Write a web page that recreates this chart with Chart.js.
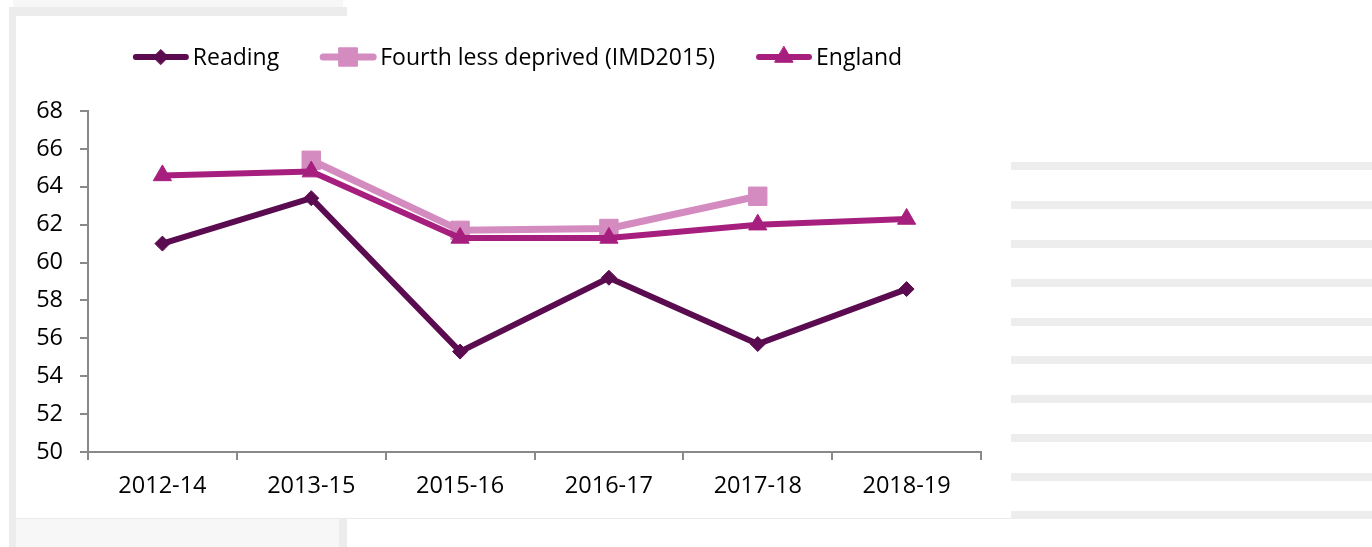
<!DOCTYPE html>
<html>
<head>
<meta charset="utf-8">
<script src="https://cdn.jsdelivr.net/npm/chart.js@4"></script>
<style>
  html, body { margin: 0; padding: 0; background: #ffffff; width: 1372px; height: 547px; overflow: hidden; position: relative; }
  .deco { position: absolute; }
  #chartBox { position: absolute; left: 16px; top: 16px; width: 995px; height: 502px; }
</style>
</head>
<body>
<div class="deco" style="left:13px;top:0;width:330px;height:7px;background:#f7f7f7;"></div>
<div class="deco" style="left:9px;top:7px;width:338px;height:9px;background:#ececec;"></div>
<div class="deco" style="left:9px;top:7px;width:7px;height:540px;background:#ececec;"></div>
<div class="deco" style="left:16px;top:519px;width:323px;height:28px;background:#f7f7f7;"></div>
<div class="deco" style="left:339px;top:519px;width:8px;height:28px;background:#ececec;"></div>
<div class="deco" style="left:16px;top:518px;width:995px;height:1px;background:#ebebeb;"></div>
<div id="stripes"></div>
<div id="chartBox"><canvas id="c" width="995" height="502"></canvas></div>
<script>
// ---- data ----
const categories = ['2012-14', '2013-15', '2015-16', '2016-17', '2017-18', '2018-19'];
const readingValues = [61.0, 63.4, 55.3, 59.2, 55.7, 58.6];
const fourthValues = [null, 65.4, 61.7, 61.8, 63.5, null];
const englandValues = [64.6, 64.8, 61.3, 61.3, 62.0, 62.3];
const seriesNames = ['Reading', 'Fourth less deprived (IMD2015)', 'England'];
const yMin = 50, yMax = 68, yStep = 2;

// ---- decorative page stripes (screenshot background) ----
(function () {
  const host = document.getElementById('stripes');
  [162, 201, 240, 279, 318, 356, 395, 434, 473, 511].forEach(function (y) {
    const d = document.createElement('div');
    d.className = 'deco';
    d.style.cssText = 'left:1011px;top:' + y + 'px;width:361px;height:8px;background:#ededed;';
    host.appendChild(d);
  });
})();

const FONT = "'Open Sans', 'Liberation Sans', sans-serif";
const AXIS_COLOR = '#898989';

const lineLegend = {
  id: 'lineLegend',
  afterDraw(chart) {
    const ctx = chart.ctx;
    const fontSize = 23;
    ctx.save();
    ctx.font = fontSize + 'px ' + FONT;
    const sampleW = 56, gapText = 4, gapItem = 41;
    const items = chart.data.datasets.map(ds => ({ ds, tw: ctx.measureText(ds.label).width }));
    const total = items.reduce((s, it) => s + sampleW + gapText + it.tw, 0) + gapItem * (items.length - 1);
    let x = 501.5 - total / 2;
    const y = 41;
    items.forEach(it => {
      const ds = it.ds;
      ctx.strokeStyle = ds.borderColor;
      ctx.lineWidth = ds.borderWidth;
      ctx.lineCap = 'round';
      ctx.beginPath();
      ctx.moveTo(x + 3, y);
      ctx.lineTo(x + sampleW - 3, y);
      ctx.stroke();
      ctx.fillStyle = ds.pointBackgroundColor;
      ctx.strokeStyle = ds.pointBorderColor;
      ctx.lineWidth = ds.pointBorderWidth;
      Chart.helpers.drawPoint(ctx, { pointStyle: ds.pointStyle, radius: ds.pointRadius, borderWidth: ds.pointBorderWidth, rotation: 0 }, x + sampleW / 2, y);
      ctx.fillStyle = '#000000';
      ctx.textBaseline = 'middle';
      ctx.textAlign = 'left';
      ctx.fillText(ds.label, x + sampleW + gapText, y + 1);
      x += sampleW + gapText + it.tw + gapItem;
    });
    ctx.restore();
  }
};

function mkDataset(label, data, color, style, radius, width, order) {
  return {
    label: label,
    data: data,
    borderColor: color,
    backgroundColor: color,
    borderWidth: width,
    pointStyle: style,
    pointRadius: radius,
    pointHoverRadius: radius,
    pointBackgroundColor: color,
    pointBorderColor: color,
    pointBorderWidth: 1,
    tension: 0,
    fill: false,
    spanGaps: false,
    order: order
  };
}

new Chart(document.getElementById('c'), {
  type: 'line',
  data: {
    labels: categories,
    datasets: [
      mkDataset(seriesNames[0], readingValues, '#5b0b4f', 'rectRot', 7.5, 6, 3),
      mkDataset(seriesNames[1], fourthValues, '#d48bbf', 'rect', 13, 7, 2),
      mkDataset(seriesNames[2], englandValues, '#a71f7e', 'triangle', 10.5, 6, 1)
    ]
  },
  options: {
    responsive: false,
    devicePixelRatio: 1,
    animation: false,
    layout: { padding: { left: 0, right: 30, top: 95, bottom: 0 } },
    plugins: {
      legend: { display: false },
      tooltip: { enabled: false },
      title: { display: false }
    },
    scales: {
      x: {
        type: 'category',
        offset: true,
        grid: { offset: true, drawOnChartArea: false, drawTicks: true, tickLength: 8, color: AXIS_COLOR, lineWidth: 2 },
        border: { display: true, color: AXIS_COLOR, width: 2 },
        ticks: { color: '#000000', font: { family: FONT, size: 23.5 }, padding: 12, maxRotation: 0, autoSkip: false },
        afterFit(s) { s.height = 66; }
      },
      y: {
        min: yMin,
        max: yMax,
        grid: { drawOnChartArea: false, drawTicks: true, tickLength: 8, color: AXIS_COLOR, lineWidth: 2 },
        border: { display: true, color: AXIS_COLOR, width: 2 },
        ticks: { stepSize: yStep, color: '#000000', font: { family: FONT, size: 23.5 }, padding: 17 },
        afterFit(s) { s.width = 72; }
      }
    }
  },
  plugins: [lineLegend]
});
</script>
</body>
</html>
